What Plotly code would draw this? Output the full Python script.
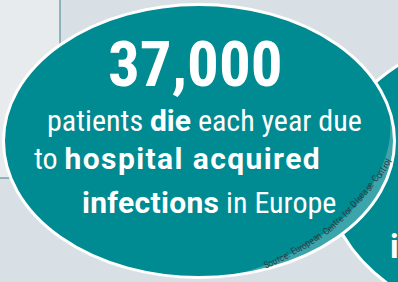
import numpy as np
import plotly.graph_objects as go

# ---- content ----
headline = "37,000"
line_parts = [
    [("patients ", False), ("die", True), (" each year due", False)],
    [("to ", False), ("hospital acquired", True)],
    [("infections", True), (" in Europe", False)],
]
source_text = "Source: European Centre for Disease Control"
side_text = "i"

# ---- layout parameters ----
W, H = 398, 282
BG = "#d9e0e5"
PANEL = "#e7ebee"
TEAL = "#008a92"
TEAL_LIGHT = "#3ca5ab"
LINE = "#3d8189"
FONT = "Roboto Condensed, Liberation Sans Narrow, Roboto, sans-serif"
BOLD_STYLE = "font-family:Roboto, sans-serif;font-weight:bold"
line_spacing_px = [0, 1.4, 0.3]


def build(parts, ls):
    out = ""
    for s, bold in parts:
        out += f'<span style="{BOLD_STYLE};letter-spacing:{ls}px">{s}</span>' if bold else s
    return out


cx, cy, rx, ry = 199.0, 141.0, 195.5, 136.5  # main ellipse (path centre)

fig = go.Figure()
fig.add_trace(go.Scatter(x=[0, W], y=[0, H], mode="markers", marker=dict(opacity=0), hoverinfo="skip", showlegend=False))

shapes = []
shapes.append(dict(type="rect", x0=0, x1=60, y0=0, y1=178, fillcolor=PANEL, line=dict(width=0), layer="below"))
shapes.append(dict(type="line", x0=60, x1=60, y0=0, y1=178, line=dict(color=LINE, width=1), layer="below"))
shapes.append(dict(type="line", x0=0, x1=60, y0=178, y1=178, line=dict(color=LINE, width=1), layer="below"))

# second ellipse (right)
cx2, cy2, rx2, ry2 = 560, 178, 233, 157
shapes.append(dict(type="circle", x0=cx2 - rx2, x1=cx2 + rx2, y0=cy2 - ry2, y1=cy2 + ry2,
                   fillcolor=TEAL, line=dict(color="white", width=3), layer="below"))

# main ellipse fill
shapes.append(dict(type="circle", x0=cx - rx, x1=cx + rx, y0=cy - ry, y1=cy + ry,
                   fillcolor=TEAL, line=dict(width=0), layer="below"))

# lighter crescent band on the lower-right rim
ta, tb = np.radians(-15), np.radians(82)
t = np.linspace(ta, tb, 80)
wmax = 12.0
w = wmax * np.sin(np.pi * (t - ta) / (tb - ta)) ** 1.1
ox = cx + rx * np.cos(t); oy = cy + ry * np.sin(t)
ix = cx + (rx - w) * np.cos(t); iy = cy + (ry - w) * np.sin(t)
pts = list(zip(ox, oy)) + list(zip(ix[::-1], iy[::-1]))
path = "M " + " L ".join(f"{a:.2f},{b:.2f}" for a, b in pts) + " Z"
shapes.append(dict(type="path", path=path, fillcolor=TEAL_LIGHT, line=dict(width=0), layer="below"))

# main ellipse outline
shapes.append(dict(type="circle", x0=cx - rx, x1=cx + rx, y0=cy - ry, y1=cy + ry,
                   fillcolor="rgba(0,0,0,0)", line=dict(color="white", width=3), layer="below"))

annotations = []
annotations.append(dict(x=195, y=64, text=f"<b>{headline}</b>", showarrow=False, xanchor="center", yanchor="middle",
                        font=dict(family=FONT, size=63, color="white")))
line_pos = [(45, 120), (32, 158), (80, 202)]
for parts, (lx, ly), ls in zip(line_parts, line_pos, line_spacing_px):
    annotations.append(dict(x=lx, y=ly, text=build(parts, ls), showarrow=False, xanchor="left", yanchor="middle",
                            font=dict(family=FONT, size=30, color="white")))

# source line set along the rim curve, character by character
guide = np.array([(264, 266), (274, 261), (301, 247), (327, 230), (344, 215), (361, 196), (380, 173), (389, 159)], float)
guide_ang = np.array([-25, -27, -30, -37, -44, -50, -57, -62], float)
seg = np.hypot(np.diff(guide[:, 0]), np.diff(guide[:, 1]))
cum = np.concatenate([[0], np.cumsum(seg)])


def cw(ch):
    if ch in " :il!.,'":
        return 0.27
    if ch in "frtj":
        return 0.33
    if ch in "mwCDSM":
        return 0.62
    return 0.5


widths = np.array([cw(c) for c in source_text])
scale = cum[-1] / widths.sum()
centers = (np.cumsum(widths) - widths / 2) * scale
for ch, s in zip(source_text, centers):
    if ch == " ":
        continue
    px = np.interp(s, cum, guide[:, 0]); py = np.interp(s, cum, guide[:, 1])
    ang = np.interp(s, cum, guide_ang)
    annotations.append(dict(x=px, y=py, text=ch, showarrow=False, xanchor="center", yanchor="middle",
                            textangle=ang, font=dict(family=FONT, size=9.5, color="#2e3d42")))

annotations.append(dict(x=388, y=246, text=f"<b>{side_text}</b>", showarrow=False, xanchor="left", yanchor="middle",
                        font=dict(family=FONT, size=34, color="white")))

fig.update_layout(
    width=W, height=H, margin=dict(l=0, r=0, t=0, b=0),
    paper_bgcolor=BG, plot_bgcolor=BG,
    xaxis=dict(range=[0, W], visible=False, fixedrange=True),
    yaxis=dict(range=[H, 0], visible=False, fixedrange=True),
    shapes=shapes, annotations=annotations, showlegend=False,
)
fig.write_html("out.html", config=dict(displayModeBar=False),
               post_script="document.body.style.margin='0';document.body.style.overflow='hidden';")
